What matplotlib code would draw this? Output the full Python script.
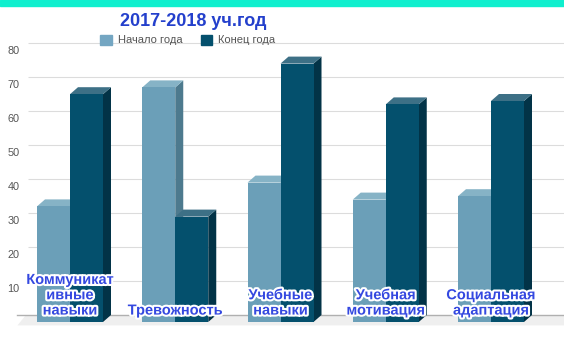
import matplotlib
matplotlib.use('Agg')
import matplotlib.pyplot as plt
import matplotlib.patheffects as pe
from matplotlib.patches import Polygon, Rectangle

plt.rcParams['font.family'] = ['Liberation Sans', 'DejaVu Sans']

categories = ['Коммуникат\nивные\nнавыки', 'Тревожность', 'Учебные\nнавыки',
              'Учебная\nмотивация', 'Социальная\nадаптация']
start_year = [34, 69, 41, 36, 37]
end_year = [67, 31, 76, 64, 65]
series_names = ['Начало года', 'Конец года']
yticks = [10, 20, 30, 40, 50, 60, 70, 80]

# colours: front, side, top
light = ('#6b9fb8', '#4d7a8e', '#86b3c6')
dark = ('#04506d', '#023347', '#3d7086')

W, H = 564, 338
fig = plt.figure(figsize=(W / 100, H / 100), dpi=100)
fig.patches.append(Rectangle((0, 1 - 6 / H), 1, 6 / H, transform=fig.transFigure,
                             color='#10efce', zorder=0))

ax = fig.add_axes([28 / W, (H - 322) / H, 1 - 28 / W, 280 / H])
px_per_x = 105.25
px_per_y = 3.4
dx = 8 / px_per_x   # depth offset in data units
dy = 7 / px_per_y
ax.set_xlim(-42 / px_per_x, (W - 70) / px_per_x)
ax.set_ylim(0, 280 / px_per_y)
for s in ax.spines.values():
    s.set_visible(False)
ax.set_xticks([])
ax.set_yticks(yticks)
ax.set_yticklabels([str(t) for t in yticks], color='#555555', fontsize=7.8)
ax.tick_params(axis='y', length=0, pad=6)

x0, x1 = ax.get_xlim()
# back wall gridlines
ax.hlines([t + dy for t in yticks], x0, x1, color='#dcdcdc', lw=0.8, zorder=1)
# floor
ax.add_patch(Polygon([(x0 - 0.1, -1), (x0 - 0.02, dy), (x1, dy), (x1, -1)],
                     closed=True, color='#efefef', lw=0, zorder=1, clip_on=False))
ax.plot([x0 - 0.1, x1], [dy, dy], color='#b0b0b0', lw=1.0, zorder=1.5, clip_on=False)

bw = 33 / px_per_x


def bar3d(xl, v, cols, z):
    xr = xl + bw
    ax.add_patch(Rectangle((xl, 0), bw, v, color=cols[0], lw=0, zorder=z + 0.2))
    ax.add_patch(Polygon([(xr, 0), (xr + dx, dy), (xr + dx, v + dy), (xr, v)],
                         closed=True, color=cols[1], lw=0, zorder=z))
    ax.add_patch(Polygon([(xl, v), (xl + dx, v + dy), (xr + dx, v + dy), (xr, v)],
                         closed=True, color=cols[2], lw=0, zorder=z + 0.1, clip_on=False))


for i in range(len(categories)):
    bar3d(i - bw, start_year[i], light, 2 + i)
    bar3d(i, end_year[i], dark, 2.5 + i)
    ax.text(i, 1.3, categories[i], ha='center', va='bottom', fontsize=10.5,
            fontweight='bold', color='#3448e0', linespacing=1.12, zorder=20,
            path_effects=[pe.withStroke(linewidth=3, foreground='white')])

fig.text(193 / W, 1 - 21 / H, '2017-2018 уч.год', ha='center', va='center',
         fontsize=13, fontweight='bold', color='#2440cc')

handles = [Rectangle((0, 0), 1, 1, color='#74a6c2'), Rectangle((0, 0), 1, 1, color=dark[0])]
fig.legend(handles, series_names, loc='center', bbox_to_anchor=(188 / W, 1 - 40 / H),
           ncol=2, frameon=False, fontsize=8, handlelength=1.0, handleheight=1.0,
           handletextpad=0.6, columnspacing=1.6, labelcolor='#555555')

fig.savefig('out.png', dpi=100, facecolor='white')
